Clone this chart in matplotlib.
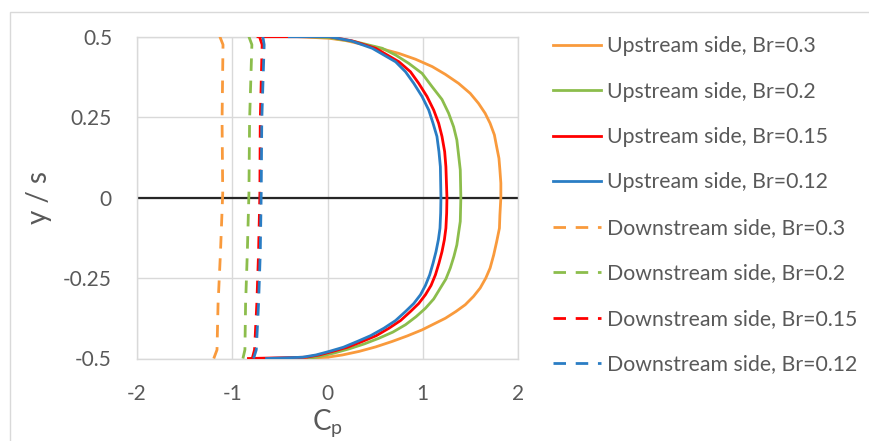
#!/usr/bin/env python3
"""
Pressure coefficient along the upstream and downstream faces
for four blockage ratios (Br). Saves out.png.
"""

import matplotlib
matplotlib.use("Agg")                 # no display, write to file
import matplotlib.pyplot as plt
from matplotlib.patches import Rectangle

# upstream face (top -> bottom)
UP_Y_03 = [0.5, 0.495, 0.488, 0.474, 0.462, 0.448, 0.43, 0.407, 0.383, 0.355, 0.324,
           0.293, 0.262, 0.231, 0.195, 0.158, 0.122, 0.086, 0.045, 0.0,
           -0.054, -0.095, -0.137, -0.178, -0.219, -0.25, -0.281, -0.307, -0.333,
           -0.354, -0.375, -0.393, -0.411, -0.43, -0.447, -0.464, -0.478, -0.489,
           -0.496, -0.5]
UP_CP_03 = [-0.30, 0.02, 0.19, 0.40, 0.575, 0.75, 0.924, 1.10, 1.237, 1.376, 1.498,
            1.585, 1.655, 1.707, 1.752, 1.776, 1.80, 1.81, 1.82, 1.82,
            1.81, 1.805, 1.776, 1.745, 1.707, 1.662, 1.603, 1.533, 1.446,
            1.348, 1.237, 1.115, 0.993, 0.836, 0.679, 0.505, 0.331, 0.157,
            0.0, -0.30]

UP_Y_02 = [0.5, 0.497, 0.484, 0.464, 0.443, 0.417, 0.386, 0.345, 0.305, 0.262, 0.22,
           0.179, 0.133, 0.086, 0.0,
           -0.074, -0.11, -0.147, -0.183, -0.219, -0.253, -0.281, -0.315, -0.344,
           -0.37, -0.395, -0.418, -0.437, -0.455, -0.47, -0.483, -0.494, -0.5]
UP_CP_02 = [-0.20, 0.02, 0.297, 0.575, 0.715, 0.854, 0.993, 1.097, 1.202, 1.272, 1.324,
            1.358, 1.376, 1.394, 1.40,
            1.394, 1.376, 1.358, 1.327, 1.289, 1.243, 1.185, 1.115, 1.028,
            0.93, 0.819, 0.686, 0.54, 0.383, 0.227, 0.07, -0.087, -0.20]

UP_Y_015 = [0.5, 0.5, 0.487, 0.464, 0.422, 0.391, 0.355, 0.314, 0.272, 0.231, 0.19,
            0.143, 0.096, 0.0,
            -0.048, -0.095, -0.131, -0.168, -0.204, -0.24, -0.273, -0.302, -0.329,
            -0.354, -0.382, -0.406, -0.429, -0.447, -0.465, -0.478, -0.489, -0.496, -0.5]
UP_CP_015 = [-0.73, 0.018, 0.26, 0.505, 0.75, 0.871, 0.958, 1.045, 1.115, 1.167, 1.202,
             1.23, 1.243, 1.254,
             1.251, 1.243, 1.227, 1.202, 1.17, 1.133, 1.087, 1.028, 0.958,
             0.871, 0.767, 0.645, 0.512, 0.366, 0.209, 0.052, -0.087, -0.226, -0.83]

UP_Y_012 = UP_Y_015
UP_CP_012 = [-0.40, 0.018, 0.25, 0.47, 0.715, 0.819, 0.906, 0.993, 1.063, 1.108, 1.149,
             1.17, 1.185, 1.191,
             1.188, 1.181, 1.164, 1.139, 1.108, 1.073, 1.028, 0.976, 0.906,
             0.819, 0.715, 0.592, 0.453, 0.313, 0.167, 0.018, -0.121, -0.261, -0.64]

# downstream face, nearly constant
DOWN_Y = [0.5, 0.475, 0.24, 0.013, -0.173, -0.33, -0.473, -0.5]
DOWN_CP_03 = [-1.13, -1.097, -1.107, -1.10, -1.124, -1.149, -1.16, -1.194]
DOWN_CP_02 = [-0.825, -0.794, -0.818, -0.825, -0.842, -0.86, -0.867, -0.888]
DOWN_CP_015 = [-0.714, -0.686, -0.706, -0.71, -0.724, -0.742, -0.766, -0.79]
DOWN_CP_012 = [-0.679, -0.665, -0.69, -0.696, -0.706, -0.724, -0.748, -0.776]

BR_LABELS = ["0.3", "0.2", "0.15", "0.12"]
COLORS = ["#F99A3C", "#8CBD4C", "#FF0000", "#2A7DC4"]

X_TICKS = [-2, -1, 0, 1, 2]
Y_TICKS = [-0.5, -0.25, 0, 0.25, 0.5]
Y_TICK_LABELS = ["-0.5", "-0.25", "0", "0.25", "0.5"]

TEXT = "#595959"
GRID = "#D9D9D9"

plt.rcParams["font.family"] = ["Lato", "DejaVu Sans"]
plt.rcParams["axes.unicode_minus"] = False   # excel uses a plain hyphen

fig = plt.figure(figsize=(8.69, 4.41), dpi=100)
ax = fig.add_axes([137 / 869, 1 - 358.5 / 441, 381 / 869, 321.8 / 441])

# light border around the whole chart, like the excel chart area
fig.patches.append(Rectangle((10 / 869, -0.2), 1.2, 1.2 - 12 / 441,
                             transform=fig.transFigure, fill=False,
                             edgecolor=GRID, lw=1.0))

up = [(UP_CP_03, UP_Y_03), (UP_CP_02, UP_Y_02), (UP_CP_015, UP_Y_015), (UP_CP_012, UP_Y_012)]
down = [DOWN_CP_03, DOWN_CP_02, DOWN_CP_015, DOWN_CP_012]

for (cp, y), br, c in zip(up, BR_LABELS, COLORS):
    ax.plot(cp, y, color=c, lw=2.0, label=f"Upstream side, Br={br}",
            solid_joinstyle="round", zorder=3)
for cp, br, c in zip(down, BR_LABELS, COLORS):
    ax.plot(cp, DOWN_Y, color=c, lw=2.0, dashes=(4.5, 3.5),
            label=f"Downstream side, Br={br}", zorder=3)

ax.axhline(0, color="#262626", lw=1.6, zorder=2)

ax.set_xlim(-2, 2)
ax.set_ylim(-0.5, 0.5)
ax.set_xticks(X_TICKS)
ax.set_yticks(Y_TICKS)
ax.set_yticklabels(Y_TICK_LABELS)
ax.tick_params(length=0, labelsize=15, labelcolor=TEXT)
ax.tick_params(axis="x", pad=18)
ax.tick_params(axis="y", pad=18)
ax.grid(True, color=GRID, lw=1.0, zorder=0)
for s in ax.spines.values():
    s.set_color(GRID)
    s.set_linewidth(1.0)

ax.set_ylabel("y / s", fontsize=20, color=TEXT, labelpad=8)
ax.set_xlabel(r"C$_\mathregular{p}$", fontsize=20, color=TEXT, labelpad=3)

fig.legend(loc="upper left", bbox_to_anchor=(553 / 869, 1 - 36 / 441),
           frameon=False, fontsize=15.3, labelcolor=TEXT, borderpad=0,
           handlelength=2.26, handletextpad=0.28, labelspacing=1.20,
           borderaxespad=0)

fig.savefig("out.png", dpi=100)
